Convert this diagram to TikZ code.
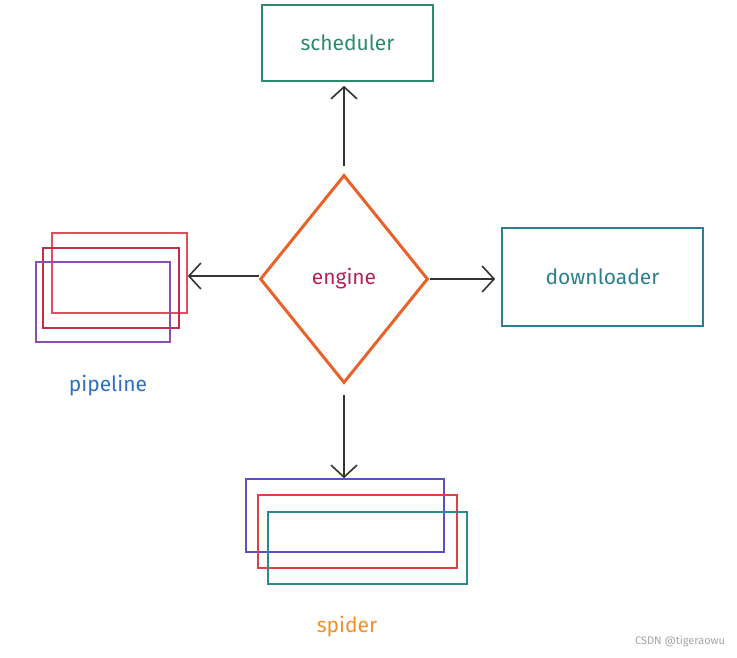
\documentclass[tikz,border=0pt]{standalone}
\usepackage{fontspec}
\setmainfont{Fira Sans}
\usepackage{tikz}
\usetikzlibrary{arrows.meta,positioning,shapes.geometric}
\definecolor{schedc}{HTML}{2D8A6E}
\definecolor{downc}{HTML}{2B7F8E}
\definecolor{enginec}{HTML}{E8622A}
\definecolor{enginet}{HTML}{B4235A}
\definecolor{pipered}{HTML}{E0505A}
\definecolor{pipecrim}{HTML}{C0304A}
\definecolor{pipepurp}{HTML}{8A4FB0}
\definecolor{pipelab}{HTML}{2F6FC0}
\definecolor{spidblue}{HTML}{5A50C8}
\definecolor{spidred}{HTML}{E04040}
\definecolor{spidteal}{HTML}{2A8A90}
\definecolor{spidlab}{HTML}{F0902A}
\definecolor{linec}{HTML}{333333}

\begin{document}
\begin{tikzpicture}[x=1pt, y=-1pt,
  box/.style={draw, line width=1.6pt, inner sep=0pt, font=\fontsize{21}{25}\selectfont},
  lbl/.style={font=\fontsize{21}{25}\selectfont},
  arr/.style={-{Straight Barb[length=12pt,width=26pt,line width=1.6pt]}, line width=1.8pt, linec}
]
  \useasboundingbox[fill=white] (0,0) rectangle (737,657);

  \node[box, draw=schedc, text=schedc, minimum width=171pt, minimum height=76pt] (sched) at (347.5,43) {scheduler};
  \node[box, diamond, draw=enginec, text=enginet, line width=3pt, minimum width=168pt, minimum height=208pt] (engine) at (344,279) {engine};
  \node[box, draw=downc, text=downc, minimum width=201pt, minimum height=98pt] (down) at (602.5,277) {downloader};

  % pipeline stack
  \node[box, draw=pipered, minimum width=135pt, minimum height=80pt]  (pipe1) at (119.5,273) {};
  \node[box, draw=pipecrim, minimum width=136pt, minimum height=80pt] (pipe2) at (111,288) {};
  \node[box, draw=pipepurp, minimum width=134pt, minimum height=80pt] (pipe3) at (103,302) {};
  \node[lbl, text=pipelab] (pipelbl) at (108,386) {pipeline};

  % spider stack
  \node[box, draw=spidblue, minimum width=198pt, minimum height=73pt] (spid1) at (345,515.5) {};
  \node[box, draw=spidred, minimum width=199pt, minimum height=73pt]  (spid2) at (357.5,531.5) {};
  \node[box, draw=spidteal, minimum width=199pt, minimum height=72pt] (spid3) at (367.5,548) {};
  \node[lbl, text=spidlab] (spidlbl) at (347,627) {spider};

  \draw[arr] ([yshift=8pt]engine.north) coordinate (etop) -- ([yshift=-4pt]etop |- sched.south);
  \draw[arr] (engine.east) -- ([xshift=-6pt]engine.east -| down.west);
  \draw[arr] ([yshift=3pt]engine.west) -- ([yshift=3pt]engine.west -| pipe1.east);
  \draw[arr] ([yshift=-10pt]engine.south) -- (engine.south |- spid1.north);

  \node[font=\fontsize{11}{13}\selectfont, text=gray!70] (mark) at (680,641) {CSDN @tigeraowu};
\end{tikzpicture}
\end{document}
